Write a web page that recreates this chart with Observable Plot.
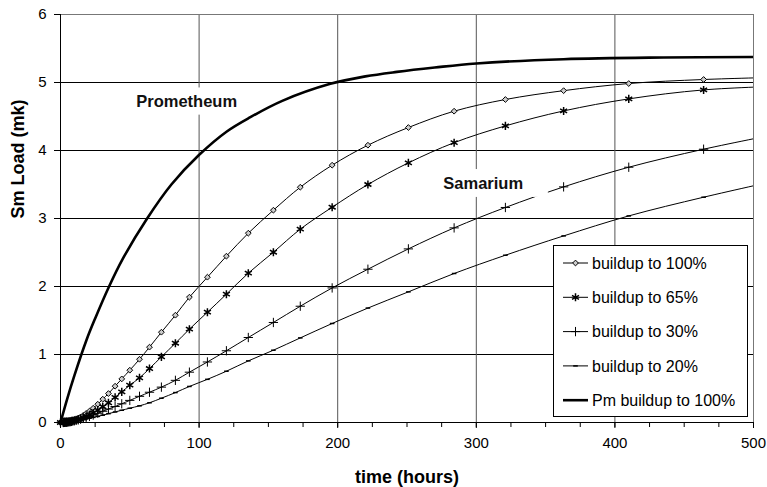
<!DOCTYPE html>
<html><head><meta charset="utf-8">
<script src="https://cdn.jsdelivr.net/npm/d3@7"></script>
<script src="https://cdn.jsdelivr.net/npm/@observablehq/plot@0.6"></script>
<style>
body{margin:0;background:#fff;font-family:Arial,"Liberation Sans",sans-serif;}
#wrap{position:relative;width:767px;height:487px;}
#legend{position:absolute;left:553px;top:245px;}
</style></head><body><div id="wrap"></div>
<script>
// time points (hours) of the Samarium curves
const times = [0, 2.0, 2.3, 2.6, 2.9, 3.3, 3.8, 4.3, 4.8, 5.5, 6.2, 7.0, 7.9, 8.9, 10.0, 11.3, 12.8, 14.5, 16.4, 18.5, 20.9, 23.6, 26.9, 30.5, 34.6, 39.4, 44.2, 50, 57, 64.2, 72.8, 82.9, 93, 106, 119.7, 135.5, 153.6, 173, 196, 221.8, 251, 284, 321, 363, 410, 464, 524];
const sm100 = [0, .002, .002, .003, .003, .004, .006, .007, .009, .012, .015, .019, .024, .031, .039, .05, .064, .082, .105, .133, .168, .21, .269, .343, .426, .534, .641, .769, .93, 1.108, 1.328, 1.578, 1.843, 2.137, 2.446, 2.784, 3.122, 3.46, 3.784, 4.078, 4.338, 4.578, 4.75, 4.88, 4.985, 5.044, 5.08];
const sm65 = [0, .001, .001, .002, .002, .003, .004, .005, .006, .008, .01, .013, .016, .021, .026, .033, .043, .055, .07, .089, .113, .141, .182, .232, .29, .37, .45, .549, .656, .794, .965, 1.166, 1.372, 1.622, 1.887, 2.196, 2.504, 2.843, 3.166, 3.5, 3.818, 4.115, 4.362, 4.582, 4.759, 4.891, 4.95];
const sm30 = [0, .001, .001, .002, .002, .003, .004, .005, .006, .008, .01, .012, .016, .02, .025, .031, .038, .048, .06, .074, .09, .11, .136, .165, .198, .235, .275, .325, .385, .445, .52, .62, .74, .89, 1.055, 1.25, 1.471, 1.71, 1.979, 2.254, 2.553, 2.862, 3.162, 3.465, 3.754, 4.019, 4.27];
const sm20 = [0, .001, .001, .002, .002, .003, .003, .004, .005, .006, .008, .01, .012, .015, .019, .023, .029, .035, .043, .052, .062, .075, .09, .108, .13, .155, .18, .21, .245, .29, .357, .44, .53, .635, .754, .906, 1.063, 1.244, 1.456, 1.683, 1.921, 2.191, 2.46, 2.744, 3.038, 3.313, 3.59];
// Prometheum curve
const pmTimes = [0, 5, 10, 18.7, 25, 34.8, 45, 62.5, 80, 99.7, 120, 137, 160, 194.7, 220, 242.7, 270, 300, 363, 435, 500];
const pmLoad = [0, 0.36, 0.69, 1.21, 1.53, 1.99, 2.41, 3.0, 3.5, 3.93, 4.28, 4.49, 4.73, 4.98, 5.09, 5.156, 5.22, 5.28, 5.343, 5.368, 5.376];
const seriesNames = ["buildup to 100%", "buildup to 65%", "buildup to 30%", "buildup to 20%", "Pm buildup to 100%"];
const yTicks = [0, 1, 2, 3, 4, 5, 6];
const xTicks = [0, 100, 200, 300, 400, 500];
const xMinorTicks = d3.range(0, 501, 25);
const labelNames = ["Prometheum", "Samarium"];
const labelT = [91, 305];
const labelV = [4.715, 3.51];
const boxT1 = [50.5, 272], boxT2 = [132, 352], boxV1 = [4.52, 3.31], boxV2 = [4.92, 3.72];

const symDash = {draw(ctx, size){ const r = Math.sqrt(size/Math.PI); ctx.moveTo(-r,0); ctx.lineTo(r,0);} };
const smStyle = [
  {symbol: d3.symbolDiamond2, r: 2.6, fill: "#ccc", sw: 1},
  {symbol: d3.symbolAsterisk, r: 3.8, fill: "none", sw: 1.5},
  {symbol: d3.symbolPlus, r: 3.1, fill: "none", sw: 1},
  {symbol: symDash, r: 2.3, fill: "none", sw: 1.5}
];
const smValues = [sm100, sm65, sm30, sm20];
const rows = [];
smValues.forEach((vals, k) => times.forEach((t, i) => rows.push({t, v: vals[i], name: seriesNames[k], k})));
const pmRows = pmTimes.map((t, i) => ({t, v: pmLoad[i]}));
const notes = labelNames.map((n, i) => ({n, t: labelT[i], v: labelV[i], t1: boxT1[i], t2: boxT2[i], v1: boxV1[i], v2: boxV2[i]}));

const marks = [
  Plot.gridY(yTicks.slice(1, 6), {stroke: "#000", strokeOpacity: 1, strokeWidth: 1}),
  Plot.gridX(xTicks.slice(1, 5), {stroke: "#555", strokeOpacity: 1, strokeWidth: 1}),
  Plot.frame({stroke: "#777"}),
  Plot.line(rows, {x: "t", y: "v", z: "name", stroke: "#000", strokeWidth: 1, curve: "catmull-rom", clip: true}),
];
smStyle.forEach((s, k) => {
  marks.push(Plot.dot(rows.filter(d => d.k === k && d.t <= 500), {x: "t", y: "v", symbol: s.symbol, r: s.r, fill: s.fill, stroke: "#000", strokeWidth: s.sw}));
});
marks.push(
  Plot.line(pmRows, {x: "t", y: "v", stroke: "#000", strokeWidth: 2.6, curve: "catmull-rom", clip: true}),
  Plot.rect(notes, {x1: "t1", x2: "t2", y1: "v1", y2: "v2", fill: "white"}),
  Plot.text(notes, {x: "t", y: "v", text: "n", fontWeight: "bold", fontSize: 16.5, fill: "#111"}),
  Plot.ruleX([0], {stroke: "#000", strokeWidth: 1}),
  Plot.ruleY([0], {stroke: "#000", strokeWidth: 1}),
  Plot.axisY(yTicks, {tickSize: 6, tickPadding: 8, fontSize: 15, label: null, tickFormat: "d"}),
  Plot.axisX(xMinorTicks, {tickSize: 5, text: null, label: null}),
  Plot.axisX(xTicks, {tickSize: 6, tickPadding: 9, fontSize: 15, label: null, tickFormat: "d"}),
  Plot.text(["time (hours)"], {frameAnchor: "bottom", dy: 55, fontWeight: "bold", fontSize: 18, lineAnchor: "middle"}),
  Plot.text(["Sm Load (mk)"], {frameAnchor: "left", dx: -42, rotate: -90, fontWeight: "bold", fontSize: 18, lineAnchor: "middle"})
);

const chart = Plot.plot({
  width: 767, height: 487,
  marginLeft: 60, marginRight: 14, marginTop: 14, marginBottom: 65,
  x: {domain: [0, 500]},
  y: {domain: [0, 6]},
  style: {fontFamily: "Arial, 'Liberation Sans', sans-serif", fontSize: "15px", color: "#000", background: "#fff"},
  marks
});
const wrap = document.getElementById("wrap");
wrap.appendChild(chart);

// legend overlay
const W = 195, H = 172;
const lg = d3.select(wrap).append("svg").attr("id", "legend").attr("width", W).attr("height", H);
lg.append("rect").attr("x", 0.5).attr("y", 0.5).attr("width", W - 1).attr("height", H - 1).attr("fill", "#fff").attr("stroke", "#000");
seriesNames.forEach((name, i) => {
  const y = 18 + i * 34.3;
  lg.append("line").attr("x1", 10).attr("x2", 35).attr("y1", y).attr("y2", y).attr("stroke", "#000").attr("stroke-width", i === 4 ? 2.6 : 1);
  if (i < 4) {
    const s = smStyle[i];
    lg.append("path").attr("d", d3.symbol(s.symbol, s.r * s.r * Math.PI)()).attr("transform", `translate(22.5,${y})`)
      .attr("fill", s.fill).attr("stroke", "#000").attr("stroke-width", s.sw);
  }
  lg.append("text").attr("x", 39).attr("y", y).attr("dy", "0.35em").attr("font-size", 16).attr("font-family", "Arial, 'Liberation Sans', sans-serif").text(name);
});
</script></body></html>
